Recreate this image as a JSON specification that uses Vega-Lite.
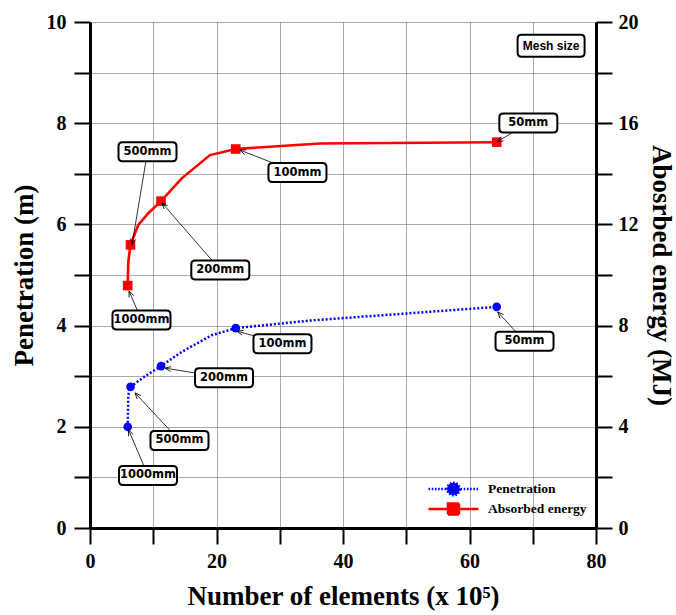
{
  "$schema": "https://vega.github.io/schema/vega-lite/v6.json",
  "width": 506,
  "height": 506,
  "autosize": {"type": "none"},
  "padding": {"left": 90, "top": 22, "right": 80, "bottom": 87},
  "background": "white",
  "config": {"view": {"stroke": null}, "font": "Liberation Serif"},
  "datasets": {
    "curve": [
      {"series": "Penetration", "x": 5.96, "value": 2.0},
      {"series": "Penetration", "x": 6.06, "value": 2.63},
      {"series": "Penetration", "x": 6.4, "value": 2.79},
      {"series": "Penetration", "x": 8.7, "value": 3.0},
      {"series": "Penetration", "x": 11.23, "value": 3.2},
      {"series": "Penetration", "x": 14.5, "value": 3.48},
      {"series": "Penetration", "x": 19.24, "value": 3.81},
      {"series": "Penetration", "x": 23.04, "value": 3.95},
      {"series": "Penetration", "x": 34.78, "value": 4.1},
      {"series": "Penetration", "x": 64.3, "value": 4.37},
      {"series": "Absorbed energy", "x": 5.96, "value": 9.58},
      {"series": "Absorbed energy", "x": 6.06, "value": 10.53},
      {"series": "Absorbed energy", "x": 6.4, "value": 11.19},
      {"series": "Absorbed energy", "x": 7.64, "value": 11.98},
      {"series": "Absorbed energy", "x": 9.22, "value": 12.44},
      {"series": "Absorbed energy", "x": 11.23, "value": 12.92},
      {"series": "Absorbed energy", "x": 14.5, "value": 13.82},
      {"series": "Absorbed energy", "x": 18.97, "value": 14.74},
      {"series": "Absorbed energy", "x": 23.04, "value": 14.98},
      {"series": "Absorbed energy", "x": 36.36, "value": 15.2},
      {"series": "Absorbed energy", "x": 64.3, "value": 15.25}
    ],
    "points": [
      {"series": "Penetration", "mesh": "1000mm", "x": 5.96, "value": 2.0},
      {"series": "Penetration", "mesh": "500mm", "x": 6.4, "value": 2.79},
      {"series": "Penetration", "mesh": "200mm", "x": 11.23, "value": 3.2},
      {"series": "Penetration", "mesh": "100mm", "x": 23.04, "value": 3.95},
      {"series": "Penetration", "mesh": "50mm", "x": 64.3, "value": 4.37},
      {"series": "Absorbed energy", "mesh": "1000mm", "x": 5.96, "value": 9.58},
      {"series": "Absorbed energy", "mesh": "500mm", "x": 6.4, "value": 11.19},
      {"series": "Absorbed energy", "mesh": "200mm", "x": 11.23, "value": 12.92},
      {"series": "Absorbed energy", "mesh": "100mm", "x": 23.04, "value": 14.98},
      {"series": "Absorbed energy", "mesh": "50mm", "x": 64.3, "value": 15.25}
    ],
    "notes": [
      {"series": "Penetration", "label": "1000mm", "x": 6.09, "y": 1.94, "lx": 9.17, "ly": 1.04},
      {"series": "Penetration", "label": "500mm", "x": 7.11, "y": 2.67, "lx": 14.15, "ly": 1.73},
      {"series": "Penetration", "label": "200mm", "x": 11.86, "y": 3.16, "lx": 21.19, "ly": 2.97},
      {"series": "Penetration", "label": "100mm", "x": 23.24, "y": 3.89, "lx": 30.43, "ly": 3.64},
      {"series": "Penetration", "label": "50mm", "x": 64.46, "y": 4.27, "lx": 68.7, "ly": 3.69},
      {"series": "Absorbed energy", "label": "1000mm", "x": 6.17, "y": 9.37, "lx": 8.14, "ly": 8.22},
      {"series": "Absorbed energy", "label": "500mm", "x": 6.64, "y": 11.19, "lx": 9.09, "ly": 14.87},
      {"series": "Absorbed energy", "label": "200mm", "x": 11.38, "y": 12.85, "lx": 20.6, "ly": 10.2},
      {"series": "Absorbed energy", "label": "100mm", "x": 23.7, "y": 14.94, "lx": 32.8, "ly": 14.05},
      {"series": "Absorbed energy", "label": "50mm", "x": 64.35, "y": 15.26, "lx": 69.3, "ly": 16.01}
    ],
    "mesh": [
      {"label": "Mesh size", "lx": 72.9, "ly": 9.53}
    ]
  },
  "resolve": {"scale": {"y": "independent"}},
  "layer": [
    {
      "layer": [
        {
          "data": {"name": "curve"},
          "transform": [{"filter": "datum.series === 'Penetration'"}],
          "mark": {"type": "line", "strokeWidth": 2.5, "color": "#0000ff", "strokeDash": [2, 2]},
          "encoding": {
            "x": {"field": "x", "type": "quantitative", "scale": {"domain": [0, 80], "nice": false, "zero": false},
              "axis": {
                "title": "Number of elements (x 10⁵)",
                "values": [0, 10, 20, 30, 40, 50, 60, 70, 80],
                "labelExpr": "datum.value % 20 === 0 ? datum.label : ''",
                "grid": true, "gridColor": "#555555", "gridDash": [1, 1], "gridWidth": 1,
                "domainColor": "black", "domainWidth": 3,
                "tickColor": "black", "tickWidth": 2, "tickSize": 16,
                "labelPadding": 7, "labelFont": "Liberation Serif", "labelFontWeight": "bold", "labelFontSize": 20, "labelColor": "black",
                "labelFlush": false, "labelOverlap": false,
                "titleFont": "Liberation Serif", "titleFontWeight": "bold", "titleFontSize": 27, "titleColor": "black", "titlePadding": 12,
                "encode": {"ticks": {"y2": {"condition": {"test": "datum.value % 20 === 0", "value": 16}, "value": 10}}}
              }
            },
            "y": {"field": "value", "type": "quantitative", "scale": {"domain": [0, 10], "nice": false},
              "axis": {
                "orient": "left",
                "title": "Penetration (m)",
                "values": [0, 1, 2, 3, 4, 5, 6, 7, 8, 9, 10],
                "labelExpr": "datum.value % 2 === 0 ? datum.label : ''",
                "grid": true, "gridColor": "#555555", "gridDash": [1, 1], "gridWidth": 1,
                "domainColor": "black", "domainWidth": 3,
                "tickColor": "black", "tickWidth": 2, "tickSize": 16,
                "labelPadding": 8, "labelFont": "Liberation Serif", "labelFontWeight": "bold", "labelFontSize": 20, "labelColor": "black",
                "labelFlush": false, "labelOverlap": false,
                "titleFont": "Liberation Serif", "titleFontWeight": "bold", "titleFontSize": 27, "titleColor": "black", "titlePadding": 8,
                "encode": {"ticks": {"x2": {"condition": {"test": "datum.value % 2 === 0", "value": -16}, "value": -9}}}
              }
            }
          }
        },
        {
          "data": {"name": "points"},
          "mark": {"type": "point", "filled": true, "size": 2500, "opacity": 0, "strokeWidth": 2.5},
          "encoding": {
            "x": {"field": "x", "type": "quantitative", "scale": {"domain": [0, 80], "nice": false, "zero": false}},
            "y": {"field": "value", "type": "quantitative", "scale": {"domain": [0, 10], "nice": false}},
            "fill": {"field": "series", "type": "nominal",
              "scale": {"domain": ["Penetration", "Absorbed energy"], "range": ["#0000ff", "#ff0000"]},
              "legend": {"title": null, "orient": "bottom-right", "offset": 9, "padding": 0, "clipHeight": 20, "rowPadding": 0, "symbolSize": 2500, "symbolStrokeWidth": 2.5, "symbolOpacity": 1, "labelOffset": 8, "labelFont": "Liberation Serif", "labelFontWeight": "bold", "labelFontSize": 13.5, "labelColor": "black"}
            },
            "stroke": {"field": "series", "type": "nominal",
              "scale": {"domain": ["Penetration", "Absorbed energy"], "range": ["#0000ff", "#ff0000"]},
              "legend": {"title": null, "orient": "bottom-right", "offset": 9, "padding": 0, "clipHeight": 20, "rowPadding": 0, "symbolSize": 2500, "symbolStrokeWidth": 2.5, "symbolOpacity": 1, "labelOffset": 8, "labelFont": "Liberation Serif", "labelFontWeight": "bold", "labelFontSize": 13.5, "labelColor": "black"}
            },
            "shape": {"field": "series", "type": "nominal",
              "scale": {"domain": ["Penetration", "Absorbed energy"], "range": [
                "M-1,0H1M0.25,0C0.25,0.138 0.138,0.25 0,0.25C-0.138,0.25 -0.25,0.138 -0.25,0C-0.25,-0.138 -0.138,-0.25 0,-0.25C0.138,-0.25 0.25,-0.138 0.25,0Z",
                "M-1,0H1M-0.22,-0.22H0.22V0.22H-0.22Z"]},
              "legend": {"title": null, "orient": "bottom-right", "offset": 9, "padding": 0, "clipHeight": 20, "rowPadding": 0, "symbolSize": 2500, "symbolStrokeWidth": 2.5, "symbolOpacity": 1, "labelOffset": 8, "labelFont": "Liberation Serif", "labelFontWeight": "bold", "labelFontSize": 13.5, "labelColor": "black"}
            },
            "strokeDash": {"field": "series", "type": "nominal",
              "scale": {"domain": ["Penetration", "Absorbed energy"], "range": [[1.6, 1.6], [1, 0]]},
              "legend": {"title": null, "orient": "bottom-right", "offset": 9, "padding": 0, "clipHeight": 20, "rowPadding": 0, "symbolSize": 2500, "symbolStrokeWidth": 2.5, "symbolOpacity": 1, "labelOffset": 8, "labelFont": "Liberation Serif", "labelFontWeight": "bold", "labelFontSize": 13.5, "labelColor": "black"}
            }
          }
        },
        {
          "data": {"name": "points"},
          "transform": [{"filter": "datum.series === 'Penetration'"}],
          "mark": {"type": "point", "shape": "circle", "filled": true, "color": "#0000ff", "size": 75, "opacity": 1, "strokeWidth": 0},
          "encoding": {
            "x": {"field": "x", "type": "quantitative", "scale": {"domain": [0, 80], "nice": false, "zero": false}},
            "y": {"field": "value", "type": "quantitative", "scale": {"domain": [0, 10], "nice": false}}
          }
        },
        {
          "data": {"name": "notes"},
          "transform": [{"filter": "datum.series === 'Penetration'"}],
          "mark": {"type": "rule", "color": "black", "strokeWidth": 0.8},
          "encoding": {
            "x": {"field": "lx", "type": "quantitative", "scale": {"domain": [0, 80], "nice": false, "zero": false}},
            "y": {"field": "ly", "type": "quantitative", "scale": {"domain": [0, 10], "nice": false}},
            "x2": {"field": "x"},
            "y2": {"field": "y"}
          }
        },
        {
          "data": {"name": "notes"},
          "transform": [
            {"filter": "datum.series === 'Penetration'"},
            {"calculate": "atan2(-(datum.y - datum.ly) * 50.6, (datum.x - datum.lx) * 6.325) * 180 / PI", "as": "ang"}
          ],
          "mark": {"type": "point", "shape": "M-6,-2.5L0,0L-6,2.5", "size": 4, "filled": false, "stroke": "black", "strokeWidth": 0.8, "opacity": 1},
          "encoding": {
            "x": {"field": "x", "type": "quantitative", "scale": {"domain": [0, 80], "nice": false, "zero": false}},
            "y": {"field": "y", "type": "quantitative", "scale": {"domain": [0, 10], "nice": false}},
            "angle": {"field": "ang", "type": "quantitative", "scale": null}
          }
        },
        {
          "data": {"name": "notes"},
          "transform": [{"filter": "datum.series === 'Penetration'"}],
          "mark": {"type": "point", "shape": "M-25,-9.5H25Q29,-9.5 29,-5.5V5.5Q29,9.5 25,9.5H-25Q-29,9.5 -29,5.5V-5.5Q-29,-9.5 -25,-9.5Z", "size": 4, "filled": true, "fill": "white", "stroke": "black", "strokeWidth": 2, "opacity": 1},
          "encoding": {
            "x": {"field": "lx", "type": "quantitative", "scale": {"domain": [0, 80], "nice": false, "zero": false}},
            "y": {"field": "ly", "type": "quantitative", "scale": {"domain": [0, 10], "nice": false}}
          }
        },
        {
          "data": {"name": "notes"},
          "transform": [{"filter": "datum.series === 'Penetration'"}],
          "mark": {"type": "text", "font": "DejaVu Sans", "fontWeight": "bold", "fontSize": 11.5, "color": "black", "align": "center", "baseline": "middle"},
          "encoding": {
            "x": {"field": "lx", "type": "quantitative", "scale": {"domain": [0, 80], "nice": false, "zero": false}},
            "y": {"field": "ly", "type": "quantitative", "scale": {"domain": [0, 10], "nice": false}},
            "text": {"field": "label"}
          }
        },
        {
          "data": {"name": "mesh"},
          "mark": {"type": "point", "shape": "M-29.5,-11H29.5Q33.5,-11 33.5,-7V7Q33.5,11 29.5,11H-29.5Q-33.5,11 -33.5,7V-7Q-33.5,-11 -29.5,-11Z", "size": 4, "filled": true, "fill": "white", "stroke": "black", "strokeWidth": 2, "opacity": 1},
          "encoding": {
            "x": {"field": "lx", "type": "quantitative", "scale": {"domain": [0, 80], "nice": false, "zero": false}},
            "y": {"field": "ly", "type": "quantitative", "scale": {"domain": [0, 10], "nice": false}}
          }
        },
        {
          "data": {"name": "mesh"},
          "mark": {"type": "text", "font": "Liberation Sans", "fontWeight": "bold", "fontSize": 12, "color": "black", "align": "center", "baseline": "middle"},
          "encoding": {
            "x": {"field": "lx", "type": "quantitative", "scale": {"domain": [0, 80], "nice": false, "zero": false}},
            "y": {"field": "ly", "type": "quantitative", "scale": {"domain": [0, 10], "nice": false}},
            "text": {"field": "label"}
          }
        }
      ]
    },
    {
      "layer": [
        {
          "data": {"name": "curve"},
          "transform": [{"filter": "datum.series === 'Absorbed energy'"}],
          "mark": {"type": "line", "strokeWidth": 2.6, "color": "#ff0000"},
          "encoding": {
            "x": {"field": "x", "type": "quantitative", "scale": {"domain": [0, 80], "nice": false, "zero": false}},
            "y": {"field": "value", "type": "quantitative", "scale": {"domain": [0, 20], "nice": false},
              "axis": {
                "orient": "right",
                "title": "Abosrbed energy (MJ)",
                "values": [0, 2, 4, 6, 8, 10, 12, 14, 16, 18, 20],
                "labelExpr": "datum.value % 4 === 0 ? datum.label : ''",
                "grid": false,
                "domainColor": "black", "domainWidth": 3,
                "tickColor": "black", "tickWidth": 2, "tickSize": 16,
                "labelPadding": 6, "labelFont": "Liberation Serif", "labelFontWeight": "bold", "labelFontSize": 20, "labelColor": "black",
                "labelFlush": false, "labelOverlap": false,
                "titleFont": "Liberation Serif", "titleFontWeight": "bold", "titleFontSize": 27, "titleColor": "black", "titlePadding": 8,
                "encode": {"ticks": {"x2": {"condition": {"test": "datum.value % 4 === 0", "value": 16}, "value": 9}}}
              }
            }
          }
        },
        {
          "data": {"name": "points"},
          "transform": [{"filter": "datum.series === 'Absorbed energy'"}],
          "mark": {"type": "point", "shape": "square", "filled": true, "color": "#ff0000", "size": 92, "opacity": 1, "strokeWidth": 0},
          "encoding": {
            "x": {"field": "x", "type": "quantitative", "scale": {"domain": [0, 80], "nice": false, "zero": false}},
            "y": {"field": "value", "type": "quantitative", "scale": {"domain": [0, 20], "nice": false}}
          }
        },
        {
          "data": {"name": "notes"},
          "transform": [{"filter": "datum.series === 'Absorbed energy'"}],
          "mark": {"type": "rule", "color": "black", "strokeWidth": 0.8},
          "encoding": {
            "x": {"field": "lx", "type": "quantitative", "scale": {"domain": [0, 80], "nice": false, "zero": false}},
            "y": {"field": "ly", "type": "quantitative", "scale": {"domain": [0, 20], "nice": false}},
            "x2": {"field": "x"},
            "y2": {"field": "y"}
          }
        },
        {
          "data": {"name": "notes"},
          "transform": [
            {"filter": "datum.series === 'Absorbed energy'"},
            {"calculate": "atan2(-(datum.y - datum.ly) * 25.3, (datum.x - datum.lx) * 6.325) * 180 / PI", "as": "ang"}
          ],
          "mark": {"type": "point", "shape": "M-6,-2.5L0,0L-6,2.5", "size": 4, "filled": false, "stroke": "black", "strokeWidth": 0.8, "opacity": 1},
          "encoding": {
            "x": {"field": "x", "type": "quantitative", "scale": {"domain": [0, 80], "nice": false, "zero": false}},
            "y": {"field": "y", "type": "quantitative", "scale": {"domain": [0, 20], "nice": false}},
            "angle": {"field": "ang", "type": "quantitative", "scale": null}
          }
        },
        {
          "data": {"name": "notes"},
          "transform": [{"filter": "datum.series === 'Absorbed energy'"}],
          "mark": {"type": "point", "shape": "M-25,-9.5H25Q29,-9.5 29,-5.5V5.5Q29,9.5 25,9.5H-25Q-29,9.5 -29,5.5V-5.5Q-29,-9.5 -25,-9.5Z", "size": 4, "filled": true, "fill": "white", "stroke": "black", "strokeWidth": 2, "opacity": 1},
          "encoding": {
            "x": {"field": "lx", "type": "quantitative", "scale": {"domain": [0, 80], "nice": false, "zero": false}},
            "y": {"field": "ly", "type": "quantitative", "scale": {"domain": [0, 20], "nice": false}}
          }
        },
        {
          "data": {"name": "notes"},
          "transform": [{"filter": "datum.series === 'Absorbed energy'"}],
          "mark": {"type": "text", "font": "DejaVu Sans", "fontWeight": "bold", "fontSize": 11.5, "color": "black", "align": "center", "baseline": "middle"},
          "encoding": {
            "x": {"field": "lx", "type": "quantitative", "scale": {"domain": [0, 80], "nice": false, "zero": false}},
            "y": {"field": "ly", "type": "quantitative", "scale": {"domain": [0, 20], "nice": false}},
            "text": {"field": "label"}
          }
        }
      ]
    }
  ]
}
